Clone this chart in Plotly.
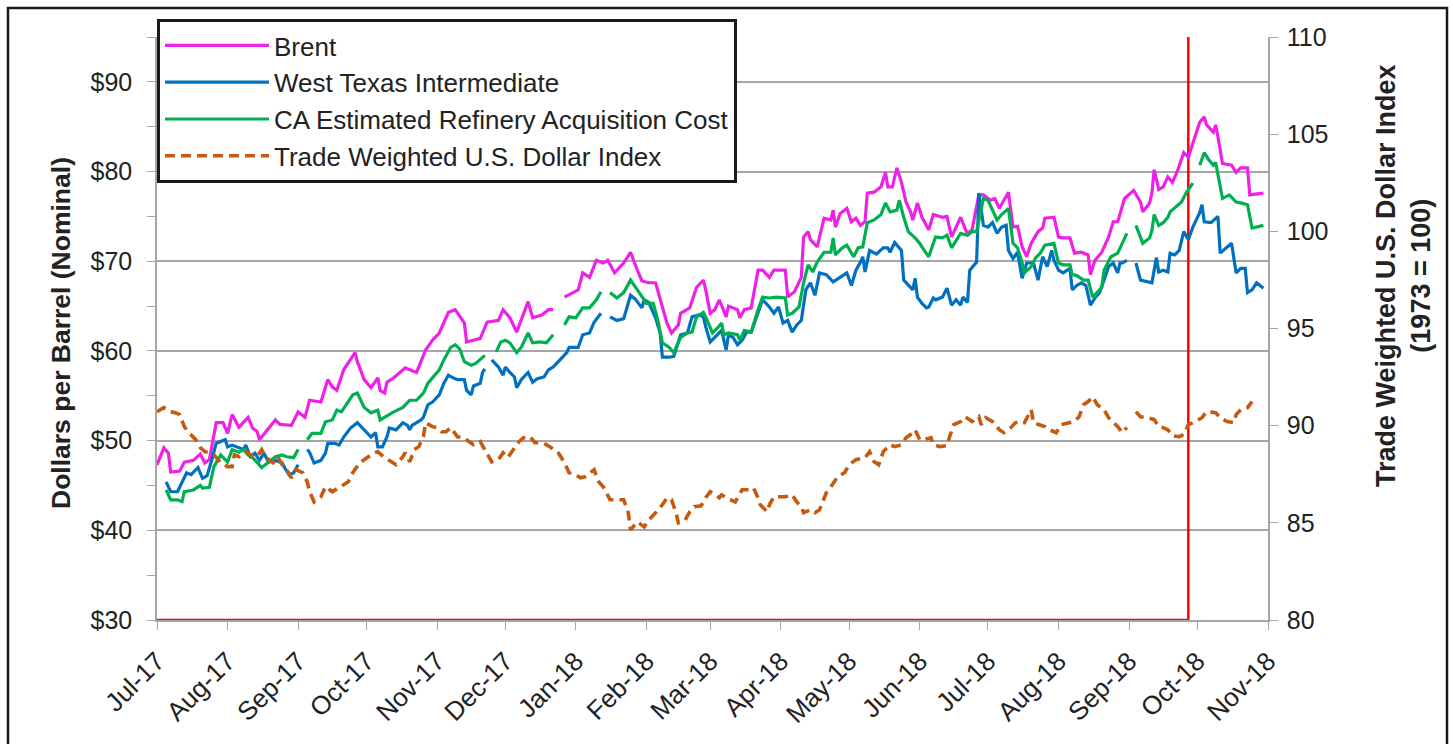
import plotly.graph_objects as go

# ---------------- data ----------------
brent = [
    ("2017-07-01", 47.3), ("2017-07-04", 49.2), ("2017-07-06", 48.6), ("2017-07-07", 46.5),
    ("2017-07-11", 46.6), ("2017-07-13", 47.6), ("2017-07-17", 47.8), ("2017-07-20", 48.5),
    ("2017-07-22", 47.5), ("2017-07-24", 47.9), ("2017-07-27", 52.0), ("2017-07-30", 52.0),
    ("2017-08-01", 50.8), ("2017-08-03", 52.9), ("2017-08-06", 51.5), ("2017-08-10", 52.6),
    ("2017-08-12", 51.4), ("2017-08-14", 51.0), ("2017-08-15", 50.1), ("2017-08-18", 51.0),
    ("2017-08-22", 52.3), ("2017-08-24", 51.8), ("2017-08-29", 51.7), ("2017-09-01", 53.2),
    ("2017-09-04", 52.6), ("2017-09-06", 54.5), ("2017-09-11", 54.3), ("2017-09-14", 56.8),
    ("2017-09-16", 56.0), ("2017-09-18", 55.6), ("2017-09-21", 57.9), ("2017-09-26", 59.8),
    ("2017-09-27", 58.8), ("2017-09-30", 56.8), ("2017-10-03", 55.9), ("2017-10-06", 57.0),
    ("2017-10-07", 55.6), ("2017-10-09", 55.3), ("2017-10-10", 56.5), ("2017-10-13", 57.0),
    ("2017-10-18", 58.1), ("2017-10-23", 57.6), ("2017-10-27", 60.1), ("2017-10-30", 61.2),
    ("2017-11-02", 62.0), ("2017-11-06", 64.3), ("2017-11-09", 64.6), ("2017-11-13", 63.1),
    ("2017-11-14", 61.0), ("2017-11-20", 61.4), ("2017-11-23", 63.2), ("2017-11-28", 63.4),
    ("2017-11-30", 64.6), ("2017-12-03", 63.7), ("2017-12-06", 62.1), ("2017-12-11", 65.5),
    ("2017-12-13", 63.7), ("2017-12-17", 64.0), ("2017-12-20", 64.6), ("2017-12-22", 64.6),
    ("2017-12-24", None),
    ("2017-12-27", 66.0), ("2018-01-02", 66.8), ("2018-01-04", 68.7), ("2018-01-07", 68.2),
    ("2018-01-10", 70.1), ("2018-01-13", 69.8), ("2018-01-15", 70.1), ("2018-01-18", 68.7),
    ("2018-01-22", 69.8), ("2018-01-25", 71.0), ("2018-01-28", 69.0), ("2018-01-30", 67.8),
    ("2018-02-02", 67.6), ("2018-02-05", 67.6), ("2018-02-08", 64.9), ("2018-02-10", 63.1),
    ("2018-02-12", 62.0), ("2018-02-15", 62.9), ("2018-02-16", 64.2), ("2018-02-20", 64.8),
    ("2018-02-23", 67.1), ("2018-02-26", 67.9), ("2018-02-27", 66.8), ("2018-03-01", 64.2),
    ("2018-03-03", 64.6), ("2018-03-05", 65.7), ("2018-03-08", 63.8), ("2018-03-09", 65.0),
    ("2018-03-13", 64.6), ("2018-03-14", 63.7), ("2018-03-16", 64.6), ("2018-03-19", 64.8),
    ("2018-03-22", 69.0), ("2018-03-24", 69.0), ("2018-03-27", 68.2), ("2018-03-29", 69.0),
    ("2018-04-03", 69.0), ("2018-04-04", 66.0), ("2018-04-07", 66.6), ("2018-04-10", 68.2),
    ("2018-04-11", 72.7), ("2018-04-13", 73.3), ("2018-04-14", 72.4), ("2018-04-17", 71.6),
    ("2018-04-20", 74.8), ("2018-04-23", 74.6), ("2018-04-24", 75.7), ("2018-04-25", 73.8),
    ("2018-04-27", 75.3), ("2018-04-30", 75.9), ("2018-05-02", 74.4), ("2018-05-04", 74.8),
    ("2018-05-06", 74.0), ("2018-05-08", 74.4), ("2018-05-09", 77.6), ("2018-05-12", 77.7),
    ("2018-05-15", 78.3), ("2018-05-16", 79.0), ("2018-05-17", 79.9), ("2018-05-18", 78.3),
    ("2018-05-20", 78.3), ("2018-05-22", 80.4), ("2018-05-24", 78.8), ("2018-05-26", 76.6),
    ("2018-05-28", 75.5), ("2018-05-29", 74.6), ("2018-05-31", 76.5), ("2018-06-02", 74.9),
    ("2018-06-05", 73.5), ("2018-06-07", 75.2), ("2018-06-11", 74.9), ("2018-06-13", 75.0),
    ("2018-06-15", 72.7), ("2018-06-17", 73.8), ("2018-06-19", 74.9), ("2018-06-21", 73.6),
    ("2018-06-22", 73.1), ("2018-06-24", 73.5), ("2018-06-27", 77.4), ("2018-06-29", 77.4),
    ("2018-07-02", 76.8), ("2018-07-04", 77.0), ("2018-07-06", 75.9), ("2018-07-08", 76.8),
    ("2018-07-10", 77.7), ("2018-07-12", 73.8), ("2018-07-14", 73.9), ("2018-07-16", 71.6),
    ("2018-07-18", 70.5), ("2018-07-20", 72.0), ("2018-07-23", 73.3), ("2018-07-25", 73.7),
    ("2018-07-26", 74.8), ("2018-07-30", 74.9), ("2018-08-01", 72.7), ("2018-08-03", 72.6),
    ("2018-08-06", 72.6), ("2018-08-08", 70.9), ("2018-08-11", 71.0), ("2018-08-14", 70.7),
    ("2018-08-15", 68.5), ("2018-08-17", 70.1), ("2018-08-20", 71.0), ("2018-08-23", 72.7),
    ("2018-08-25", 74.4), ("2018-08-27", 74.4), ("2018-08-29", 76.0), ("2018-08-30", 77.0),
    ("2018-09-03", 77.9), ("2018-09-06", 76.6), ("2018-09-07", 75.5), ("2018-09-10", 76.5),
    ("2018-09-11", 77.6), ("2018-09-12", 80.2), ("2018-09-14", 78.0), ("2018-09-16", 78.3),
    ("2018-09-18", 79.4), ("2018-09-20", 78.8), ("2018-09-22", 79.9), ("2018-09-25", 82.1),
    ("2018-09-27", 81.6), ("2018-09-29", 83.2), ("2018-10-02", 85.5), ("2018-10-04", 86.1),
    ("2018-10-05", 85.2), ("2018-10-08", 84.4), ("2018-10-09", 85.2), ("2018-10-10", 83.9),
    ("2018-10-12", 80.9), ("2018-10-16", 80.7), ("2018-10-18", 79.9), ("2018-10-20", 80.4),
    ("2018-10-23", 80.4), ("2018-10-24", 77.4), ("2018-10-27", 77.5), ("2018-10-30", 77.6),
]

wti = [
    ("2017-07-01", 46.0), ("2017-07-03", None),
    ("2017-07-05", 45.4), ("2017-07-07", 44.3), ("2017-07-10", 44.3), ("2017-07-14", 46.4),
    ("2017-07-16", 46.2), ("2017-07-19", 47.0), ("2017-07-21", 45.8), ("2017-07-23", 46.1),
    ("2017-07-25", 47.8), ("2017-07-27", 49.7), ("2017-07-31", 50.1), ("2017-08-01", 49.3),
    ("2017-08-03", 49.5), ("2017-08-05", 49.3), ("2017-08-08", 49.0), ("2017-08-09", 49.5),
    ("2017-08-11", 48.2), ("2017-08-13", 48.6), ("2017-08-15", 47.8), ("2017-08-17", 48.6),
    ("2017-08-19", 47.6), ("2017-08-22", 47.8), ("2017-08-25", 47.5), ("2017-08-26", 47.0),
    ("2017-08-28", 46.2), ("2017-08-30", 46.4), ("2017-09-01", 47.3), ("2017-09-03", None),
    ("2017-09-05", 49.0), ("2017-09-06", 48.7), ("2017-09-08", 47.5), ("2017-09-11", 47.8),
    ("2017-09-13", 48.6), ("2017-09-14", 49.7), ("2017-09-17", 49.7), ("2017-09-19", 49.5),
    ("2017-09-21", 50.4), ("2017-09-24", 51.4), ("2017-09-27", 52.0), ("2017-09-30", 51.2),
    ("2017-10-03", 50.4), ("2017-10-05", 50.9), ("2017-10-06", 49.3), ("2017-10-08", 49.3),
    ("2017-10-10", 50.4), ("2017-10-11", 51.4), ("2017-10-14", 51.2), ("2017-10-17", 52.0),
    ("2017-10-19", 51.7), ("2017-10-20", 51.2), ("2017-10-21", 51.7), ("2017-10-23", 52.0),
    ("2017-10-25", 52.3), ("2017-10-26", 52.6), ("2017-10-28", 54.0), ("2017-10-30", 54.3),
    ("2017-11-02", 55.1), ("2017-11-04", 56.4), ("2017-11-06", 57.3), ("2017-11-08", 57.0),
    ("2017-11-10", 56.8), ("2017-11-13", 56.8), ("2017-11-14", 55.6), ("2017-11-16", 55.1),
    ("2017-11-17", 56.1), ("2017-11-20", 56.4), ("2017-11-21", 57.6), ("2017-11-22", 58.0),
    ("2017-11-23", None),
    ("2017-11-25", 59.0), ("2017-11-28", 58.2), ("2017-11-30", 57.3), ("2017-12-01", 58.2),
    ("2017-12-03", 57.6), ("2017-12-05", 57.1), ("2017-12-06", 55.9), ("2017-12-08", 56.8),
    ("2017-12-11", 57.6), ("2017-12-13", 56.5), ("2017-12-15", 56.9), ("2017-12-18", 57.1),
    ("2017-12-20", 57.9), ("2017-12-22", 58.2), ("2017-12-25", 59.0), ("2017-12-28", 59.8),
    ("2017-12-29", 60.4), ("2018-01-02", 60.4), ("2018-01-04", 61.8), ("2018-01-07", 62.0),
    ("2018-01-09", 63.2), ("2018-01-12", 64.2), ("2018-01-14", None),
    ("2018-01-16", 63.8), ("2018-01-19", 63.4), ("2018-01-22", 63.6), ("2018-01-25", 66.2),
    ("2018-01-27", 65.8), ("2018-01-30", 64.8), ("2018-01-31", 65.7), ("2018-02-02", 65.4),
    ("2018-02-05", 63.7), ("2018-02-07", 62.0), ("2018-02-08", 59.3), ("2018-02-11", 59.3),
    ("2018-02-13", 59.4), ("2018-02-16", 61.8), ("2018-02-19", 62.0), ("2018-02-21", 63.8),
    ("2018-02-24", 64.0), ("2018-02-26", 63.8), ("2018-02-27", 62.7), ("2018-03-01", 61.0),
    ("2018-03-03", 61.5), ("2018-03-06", 62.3), ("2018-03-08", 60.1), ("2018-03-09", 61.8),
    ("2018-03-11", 61.5), ("2018-03-13", 60.7), ("2018-03-15", 61.2), ("2018-03-17", 62.1),
    ("2018-03-19", 62.1), ("2018-03-22", 64.2), ("2018-03-24", 65.7), ("2018-03-27", 64.9),
    ("2018-03-29", 64.2), ("2018-03-31", 64.9), ("2018-04-02", 63.1), ("2018-04-04", 63.4),
    ("2018-04-06", 62.1), ("2018-04-08", 62.9), ("2018-04-10", 63.4), ("2018-04-12", 66.8),
    ("2018-04-14", 67.6), ("2018-04-16", 66.2), ("2018-04-18", 68.7), ("2018-04-21", 68.5),
    ("2018-04-24", 67.7), ("2018-04-27", 68.2), ("2018-04-30", 68.7), ("2018-05-02", 67.3),
    ("2018-05-04", 69.0), ("2018-05-06", 69.9), ("2018-05-07", 70.5), ("2018-05-08", 68.8),
    ("2018-05-10", 71.2), ("2018-05-13", 70.8), ("2018-05-16", 71.5), ("2018-05-18", 71.5),
    ("2018-05-19", 71.0), ("2018-05-21", 72.1), ("2018-05-24", 71.2), ("2018-05-25", 67.9),
    ("2018-05-27", 67.3), ("2018-05-29", 66.8), ("2018-05-30", 68.1), ("2018-05-31", 66.0),
    ("2018-06-02", 65.3), ("2018-06-04", 64.8), ("2018-06-05", 64.9), ("2018-06-07", 65.9),
    ("2018-06-08", 65.7), ("2018-06-11", 66.0), ("2018-06-13", 67.0), ("2018-06-15", 65.1),
    ("2018-06-17", 65.7), ("2018-06-19", 65.1), ("2018-06-20", 66.0), ("2018-06-22", 65.4),
    ("2018-06-23", 69.0), ("2018-06-26", 69.9), ("2018-06-27", 77.6), ("2018-06-29", 74.0),
    ("2018-07-01", 73.8), ("2018-07-03", 74.3), ("2018-07-05", 73.1), ("2018-07-07", 73.8),
    ("2018-07-09", 74.0), ("2018-07-10", 71.2), ("2018-07-12", 70.3), ("2018-07-14", 71.0),
    ("2018-07-16", 68.1), ("2018-07-18", 69.8), ("2018-07-21", 69.8), ("2018-07-23", 67.9),
    ("2018-07-25", 70.5), ("2018-07-27", 69.4), ("2018-07-29", 71.2), ("2018-07-30", 70.1),
    ("2018-08-01", 69.0), ("2018-08-03", 68.7), ("2018-08-06", 69.2), ("2018-08-07", 66.8),
    ("2018-08-09", 67.3), ("2018-08-11", 67.6), ("2018-08-13", 67.3), ("2018-08-15", 65.1),
    ("2018-08-17", 65.9), ("2018-08-19", 66.5), ("2018-08-21", 67.9), ("2018-08-23", 69.4),
    ("2018-08-25", 69.8), ("2018-08-27", 68.7), ("2018-08-28", 69.8), ("2018-08-29", 69.8),
    ("2018-08-31", 70.1), ("2018-09-03", None),
    ("2018-09-04", 69.8), ("2018-09-06", 67.9), ("2018-09-11", 67.6), ("2018-09-13", 70.4),
    ("2018-09-14", 68.8), ("2018-09-16", 69.0), ("2018-09-18", 68.8), ("2018-09-19", 70.9),
    ("2018-09-21", 70.7), ("2018-09-23", 71.2), ("2018-09-25", 73.3), ("2018-09-27", 72.4),
    ("2018-09-29", 73.8), ("2018-10-02", 75.4), ("2018-10-03", 76.3), ("2018-10-04", 74.4),
    ("2018-10-07", 74.3), ("2018-10-10", 75.0), ("2018-10-11", 70.9), ("2018-10-14", 71.6),
    ("2018-10-16", 72.0), ("2018-10-18", 68.7), ("2018-10-20", 69.2), ("2018-10-22", 69.2),
    ("2018-10-23", 66.5), ("2018-10-25", 66.8), ("2018-10-27", 67.6), ("2018-10-30", 67.0),
]

ca_rac = [
    ("2017-07-01", 44.3), ("2017-07-03", None),
    ("2017-07-05", 44.5), ("2017-07-07", 43.4), ("2017-07-10", 43.4), ("2017-07-12", 43.2),
    ("2017-07-13", 44.3), ("2017-07-17", 44.5), ("2017-07-20", 45.0), ("2017-07-21", 44.7),
    ("2017-07-24", 44.8), ("2017-07-26", 47.1), ("2017-07-29", 48.4), ("2017-08-01", 47.6),
    ("2017-08-03", 49.0), ("2017-08-06", 48.7), ("2017-08-08", 49.0), ("2017-08-10", 48.4),
    ("2017-08-12", 48.1), ("2017-08-14", 47.6), ("2017-08-16", 47.0), ("2017-08-19", 47.6),
    ("2017-08-22", 48.2), ("2017-08-25", 48.4), ("2017-08-27", 48.2), ("2017-08-30", 48.1),
    ("2017-09-01", 49.0), ("2017-09-03", None),
    ("2017-09-05", 50.1), ("2017-09-07", 50.8), ("2017-09-11", 50.8), ("2017-09-13", 52.1),
    ("2017-09-16", 52.3), ("2017-09-18", 53.4), ("2017-09-20", 53.2), ("2017-09-23", 54.3),
    ("2017-09-25", 55.1), ("2017-09-27", 55.3), ("2017-09-30", 53.7), ("2017-10-03", 53.1),
    ("2017-10-06", 53.4), ("2017-10-07", 52.3), ("2017-10-10", 52.8), ("2017-10-13", 53.2),
    ("2017-10-17", 53.7), ("2017-10-20", 54.5), ("2017-10-23", 54.5), ("2017-10-26", 55.3),
    ("2017-10-28", 56.4), ("2017-10-30", 57.0), ("2017-11-02", 57.9), ("2017-11-04", 59.0),
    ("2017-11-07", 60.4), ("2017-11-09", 60.7), ("2017-11-11", 60.2), ("2017-11-13", 58.8),
    ("2017-11-16", 58.4), ("2017-11-18", 58.6), ("2017-11-20", 59.0), ("2017-11-22", 59.5),
    ("2017-11-24", None),
    ("2017-11-27", 59.9), ("2017-11-29", 61.0), ("2017-12-01", 61.2), ("2017-12-03", 60.9),
    ("2017-12-06", 59.8), ("2017-12-08", 60.4), ("2017-12-11", 62.0), ("2017-12-13", 60.9),
    ("2017-12-16", 61.0), ("2017-12-19", 60.9), ("2017-12-20", 61.2), ("2017-12-22", 61.8),
    ("2017-12-24", None),
    ("2017-12-27", 62.9), ("2017-12-29", 63.8), ("2018-01-01", 63.7), ("2018-01-04", 64.8),
    ("2018-01-07", 64.8), ("2018-01-10", 65.7), ("2018-01-12", 66.6), ("2018-01-14", None),
    ("2018-01-16", 66.5), ("2018-01-19", 65.9), ("2018-01-22", 66.5), ("2018-01-25", 67.9),
    ("2018-01-28", 66.8), ("2018-01-30", 66.0), ("2018-02-01", 65.3), ("2018-02-04", 65.3),
    ("2018-02-06", 63.4), ("2018-02-08", 60.9), ("2018-02-11", 60.4), ("2018-02-13", 59.8),
    ("2018-02-16", 61.5), ("2018-02-19", 62.0), ("2018-02-21", 62.1), ("2018-02-23", 63.8),
    ("2018-02-26", 64.3), ("2018-02-27", 63.8), ("2018-03-02", 62.0), ("2018-03-04", 62.5),
    ("2018-03-06", 63.1), ("2018-03-07", 61.8), ("2018-03-09", 62.0), ("2018-03-13", 61.8),
    ("2018-03-14", 61.2), ("2018-03-16", 62.3), ("2018-03-19", 62.1), ("2018-03-22", 64.6),
    ("2018-03-24", 66.0), ("2018-03-27", 65.9), ("2018-03-30", 66.0), ("2018-04-03", 65.9),
    ("2018-04-04", 64.0), ("2018-04-06", 64.2), ("2018-04-09", 64.9), ("2018-04-11", 67.6),
    ("2018-04-13", 69.6), ("2018-04-15", 68.8), ("2018-04-17", 69.9), ("2018-04-20", 71.0),
    ("2018-04-23", 71.0), ("2018-04-24", 72.6), ("2018-04-25", 70.7), ("2018-04-28", 71.5),
    ("2018-04-30", 71.8), ("2018-05-03", 70.5), ("2018-05-05", 71.5), ("2018-05-07", 71.6),
    ("2018-05-09", 74.3), ("2018-05-12", 74.6), ("2018-05-15", 75.2), ("2018-05-17", 76.5),
    ("2018-05-19", 75.5), ("2018-05-22", 75.7), ("2018-05-23", 76.8), ("2018-05-25", 74.9),
    ("2018-05-27", 73.3), ("2018-05-30", 72.6), ("2018-06-01", 72.0), ("2018-06-03", 71.2),
    ("2018-06-05", 70.5), ("2018-06-07", 72.0), ("2018-06-08", 72.7), ("2018-06-11", 72.6),
    ("2018-06-13", 72.9), ("2018-06-15", 71.5), ("2018-06-18", 72.7), ("2018-06-19", 73.1),
    ("2018-06-22", 72.9), ("2018-06-24", 73.3), ("2018-06-26", 73.3), ("2018-06-29", 77.0),
    ("2018-07-01", 76.8), ("2018-07-03", 75.7), ("2018-07-05", 74.6), ("2018-07-07", 75.2),
    ("2018-07-10", 75.9), ("2018-07-12", 72.0), ("2018-07-14", 71.5), ("2018-07-16", 69.8),
    ("2018-07-17", 68.7), ("2018-07-20", 69.4), ("2018-07-22", 70.4), ("2018-07-24", 70.9),
    ("2018-07-26", 71.8), ("2018-07-30", 72.0), ("2018-08-01", 69.8), ("2018-08-03", 69.6),
    ("2018-08-06", 69.6), ("2018-08-07", 68.5), ("2018-08-09", 68.4), ("2018-08-12", 67.9),
    ("2018-08-14", 67.9), ("2018-08-16", 66.0), ("2018-08-18", 66.6), ("2018-08-20", 67.1),
    ("2018-08-21", 69.0), ("2018-08-24", 70.5), ("2018-08-27", 70.9), ("2018-08-29", 72.0),
    ("2018-08-31", 73.1), ("2018-09-03", None),
    ("2018-09-04", 74.0), ("2018-09-05", 73.3), ("2018-09-07", 72.0), ("2018-09-10", 72.6),
    ("2018-09-11", 73.4), ("2018-09-12", 75.2), ("2018-09-14", 74.0), ("2018-09-16", 74.3),
    ("2018-09-18", 74.9), ("2018-09-19", 75.5), ("2018-09-21", 75.9), ("2018-09-24", 76.6),
    ("2018-09-26", 77.6), ("2018-09-29", 78.7), ("2018-10-01", None),
    ("2018-10-02", 80.7), ("2018-10-04", 82.1), ("2018-10-06", 81.3), ("2018-10-08", 80.7),
    ("2018-10-09", 81.0), ("2018-10-12", 77.0), ("2018-10-15", 77.4), ("2018-10-18", 76.6),
    ("2018-10-20", 76.5), ("2018-10-23", 76.3), ("2018-10-25", 73.7), ("2018-10-30", 74.0),
]

dollar_index = [
    ("2017-07-01", 90.72), ("2017-07-04", 90.93), ("2017-07-07", 90.72), ("2017-07-09", 90.67),
    ("2017-07-11", 90.57), ("2017-07-13", 89.95), ("2017-07-15", 89.64), ("2017-07-18", 89.28),
    ("2017-07-20", 88.87), ("2017-07-22", 88.66), ("2017-07-24", 88.61), ("2017-07-26", 88.50),
    ("2017-07-29", 88.09), ("2017-08-01", 87.89), ("2017-08-03", 87.89), ("2017-08-04", 88.50),
    ("2017-08-06", 88.40), ("2017-08-09", 88.66), ("2017-08-11", 88.50), ("2017-08-14", 88.40),
    ("2017-08-16", 88.76), ("2017-08-18", 88.35), ("2017-08-21", 88.09), ("2017-08-23", 88.40),
    ("2017-08-25", 87.99), ("2017-08-27", 87.73), ("2017-08-29", 87.32), ("2017-08-31", 87.73),
    ("2017-09-03", 87.58), ("2017-09-05", 87.11), ("2017-09-06", 86.60), ("2017-09-08", 86.08),
    ("2017-09-11", 86.34), ("2017-09-13", 86.86), ("2017-09-16", 86.60), ("2017-09-19", 86.80),
    ("2017-09-21", 86.96), ("2017-09-23", 87.11), ("2017-09-25", 87.58), ("2017-09-28", 88.09),
    ("2017-09-30", 88.25), ("2017-10-03", 88.50), ("2017-10-06", 88.66), ("2017-10-09", 88.35),
    ("2017-10-12", 88.14), ("2017-10-14", 87.99), ("2017-10-17", 88.40), ("2017-10-18", 88.61),
    ("2017-10-20", 88.14), ("2017-10-22", 88.76), ("2017-10-24", 88.92), ("2017-10-26", 89.43),
    ("2017-10-27", 90.15), ("2017-10-30", 89.95), ("2017-11-01", 89.90), ("2017-11-03", 89.69),
    ("2017-11-05", 89.69), ("2017-11-07", 89.90), ("2017-11-10", 89.43), ("2017-11-13", 89.38),
    ("2017-11-15", 89.18), ("2017-11-17", 89.02), ("2017-11-20", 89.18), ("2017-11-22", 88.76),
    ("2017-11-25", 88.14), ("2017-11-28", 88.25), ("2017-11-30", 88.61), ("2017-12-02", 88.35),
    ("2017-12-05", 88.87), ("2017-12-07", 89.18), ("2017-12-09", 89.38), ("2017-12-12", 89.43),
    ("2017-12-14", 89.12), ("2017-12-17", 89.12), ("2017-12-19", 89.02), ("2017-12-21", 88.87),
    ("2017-12-24", 88.66), ("2017-12-27", 88.09), ("2017-12-29", 87.58), ("2018-01-01", 87.47),
    ("2018-01-03", 87.32), ("2018-01-05", 87.37), ("2018-01-09", 87.73), ("2018-01-11", 87.11),
    ("2018-01-13", 86.86), ("2018-01-16", 86.19), ("2018-01-19", 86.19), ("2018-01-22", 86.19),
    ("2018-01-24", 85.52), ("2018-01-25", 84.64), ("2018-01-28", 85.05), ("2018-01-31", 84.79),
    ("2018-02-02", 85.15), ("2018-02-03", 85.26), ("2018-02-05", 85.52), ("2018-02-08", 85.93),
    ("2018-02-10", 86.29), ("2018-02-12", 86.19), ("2018-02-14", 85.52), ("2018-02-15", 85.00),
    ("2018-02-18", 85.15), ("2018-02-20", 85.57), ("2018-02-22", 85.83), ("2018-02-25", 85.88),
    ("2018-02-27", 86.29), ("2018-03-01", 86.60), ("2018-03-05", 86.29), ("2018-03-06", 86.44),
    ("2018-03-08", 86.29), ("2018-03-12", 86.08), ("2018-03-13", 86.29), ("2018-03-15", 86.70),
    ("2018-03-18", 86.70), ("2018-03-20", 86.80), ("2018-03-22", 86.29), ("2018-03-23", 85.93),
    ("2018-03-26", 85.57), ("2018-03-27", 85.93), ("2018-03-29", 86.34), ("2018-04-03", 86.34),
    ("2018-04-06", 86.44), ("2018-04-08", 86.08), ("2018-04-10", 85.83), ("2018-04-11", 85.52),
    ("2018-04-14", 85.67), ("2018-04-16", 85.52), ("2018-04-18", 85.67), ("2018-04-20", 86.19),
    ("2018-04-21", 86.55), ("2018-04-23", 86.86), ("2018-04-26", 87.37), ("2018-04-29", 87.58),
    ("2018-05-01", 87.99), ("2018-05-04", 88.25), ("2018-05-08", 88.35), ("2018-05-10", 88.66),
    ("2018-05-12", 88.14), ("2018-05-14", 87.99), ("2018-05-16", 88.66), ("2018-05-19", 89.02),
    ("2018-05-21", 88.92), ("2018-05-24", 89.02), ("2018-05-26", 89.38), ("2018-05-28", 89.54),
    ("2018-05-30", 89.79), ("2018-06-01", 89.28), ("2018-06-03", 89.28), ("2018-06-06", 89.38),
    ("2018-06-07", 89.02), ("2018-06-10", 88.92), ("2018-06-13", 88.97), ("2018-06-14", 89.38),
    ("2018-06-16", 90.05), ("2018-06-19", 90.21), ("2018-06-21", 90.46), ("2018-06-24", 90.21),
    ("2018-06-27", 90.46), ("2018-06-28", 90.05), ("2018-06-30", 90.41), ("2018-07-03", 90.21),
    ("2018-07-06", 89.79), ("2018-07-08", 89.64), ("2018-07-11", 89.90), ("2018-07-13", 90.15),
    ("2018-07-15", 90.21), ("2018-07-17", 90.15), ("2018-07-20", 90.82), ("2018-07-21", 90.15),
    ("2018-07-24", 90.05), ("2018-07-26", 89.95), ("2018-07-28", 89.79), ("2018-07-31", 89.64),
    ("2018-08-02", 90.05), ("2018-08-05", 90.15), ("2018-08-08", 90.21), ("2018-08-10", 90.46),
    ("2018-08-12", 91.08), ("2018-08-14", 91.24), ("2018-08-16", 91.49), ("2018-08-18", 91.08),
    ("2018-08-21", 90.82), ("2018-08-23", 90.41), ("2018-08-25", 90.21), ("2018-08-27", 89.95),
    ("2018-08-29", 89.64), ("2018-08-31", 89.90), ("2018-09-03", None),
    ("2018-09-04", 90.72), ("2018-09-06", 90.46), ("2018-09-09", 90.41), ("2018-09-12", 90.31),
    ("2018-09-14", 89.95), ("2018-09-16", 89.90), ("2018-09-18", 89.79), ("2018-09-20", 89.48),
    ("2018-09-23", 89.43), ("2018-09-25", 89.54), ("2018-09-27", 90.05), ("2018-09-29", 90.15),
    ("2018-10-03", 90.41), ("2018-10-05", 90.72), ("2018-10-09", 90.67), ("2018-10-11", 90.41),
    ("2018-10-14", 90.21), ("2018-10-17", 90.15), ("2018-10-18", 90.57), ("2018-10-20", 90.82),
    ("2018-10-23", 90.93), ("2018-10-25", 91.24),
]

marker_date = "2018-09-27"          # red reference line
x_start, x_end = "2017-07-01", "2018-11-01"
price_range = [30, 95]
index_range = [80, 110]
price_ticks = [30, 40, 50, 60, 70, 80, 90]
index_ticks = [80, 85, 90, 95, 100, 105, 110]

series_names = [
    "Brent",
    "West Texas Intermediate",
    "CA Estimated Refinery Acquisition Cost",
    "Trade Weighted U.S. Dollar Index",
]

# ---------------- figure ----------------
FONT = "Liberation Sans, Arial, sans-serif"
TXT = "#222222"
GRID = "#A6A6A6"


def split(pairs):
    return [p[0] for p in pairs], [p[1] for p in pairs]


fig = go.Figure()

# red reference line (under everything)
fig.add_trace(go.Scatter(
    x=[x_start, marker_date, marker_date],
    y=[price_range[0], price_range[0], price_range[1]],
    mode="lines", line=dict(color="#FF0000", width=2.5),
    showlegend=False, hoverinfo="skip", cliponaxis=False,
))

for pairs, name, color in [
    (brent, series_names[0], "#EE22E6"),
    (wti, series_names[1], "#0070C0"),
    (ca_rac, series_names[2], "#00B050"),
]:
    xs, ys = split(pairs)
    fig.add_trace(go.Scatter(x=xs, y=ys, name=name, mode="lines",
                             line=dict(color=color, width=3.2), connectgaps=False))

xs, ys = split(dollar_index)
fig.add_trace(go.Scatter(x=xs, y=ys, name=series_names[3], mode="lines", yaxis="y2",
                         line=dict(color="#C55A11", width=3.6, dash="10px,6px"),
                         connectgaps=False))

W, H = 1453, 744
L, R, T, B = 157, 185, 37, 124
pw, ph = W - L - R, H - T - B


def px_x(px):
    return (px - L) / pw


def px_y(py):
    return (H - B - py) / ph


fig.update_layout(
    width=W, height=H,
    margin=dict(l=L, r=R, t=T, b=B, autoexpand=False),
    paper_bgcolor="white", plot_bgcolor="white",
    font=dict(family=FONT, size=24, color=TXT),
    showlegend=True,
    legend=dict(
        x=0, y=px_y(19), xanchor="left", yanchor="top",
        bgcolor="white", bordercolor="#1a1a1a", borderwidth=3,
        font=dict(family=FONT, size=26, color=TXT),
        itemwidth=104, tracegroupgap=0,
    ),
    xaxis=dict(
        type="date", range=[x_start, x_end],
        tick0=x_start, dtick="M1", tickformat="%b-%y", tickangle=-45,
        ticks="outside", ticklen=8, tickcolor=GRID, tickwidth=1.2,
        ticklabelstandoff=6,
        showline=True, linecolor=GRID, linewidth=1.5,
        showgrid=False, zeroline=False,
        tickfont=dict(family=FONT, size=26, color=TXT),
    ),
    yaxis=dict(
        range=price_range, tickvals=price_ticks,
        ticktext=["$" + str(v) for v in price_ticks],
        ticks="outside", ticklen=8, tickcolor=GRID, tickwidth=1.2,
        ticklabelstandoff=10,
        minor=dict(dtick=5, tick0=30, ticks="outside", ticklen=8, tickcolor=GRID, tickwidth=1.2),
        showline=True, linecolor=GRID, linewidth=1.5,
        showgrid=True, gridcolor=GRID, gridwidth=1.5, zeroline=False,
        tickfont=dict(family=FONT, size=25, color=TXT),
    ),
    yaxis2=dict(
        range=index_range, tickvals=index_ticks,
        overlaying="y", side="right",
        ticks="outside", ticklen=8, tickcolor=GRID, tickwidth=1.2,
        ticklabelstandoff=4,
        showline=True, linecolor=GRID, linewidth=1.5,
        showgrid=False, zeroline=False,
        tickfont=dict(family=FONT, size=25, color=TXT),
    ),
    annotations=[
        dict(text="<b>Dollars per Barrel (Nominal)</b>", xref="paper", yref="paper",
             x=px_x(61), y=px_y(333), textangle=-90, showarrow=False,
             font=dict(family=FONT, size=26.5, color=TXT), xanchor="center", yanchor="middle"),
        dict(text="<b>Trade Weighted U.S. Dollar Index<br>(1973 = 100)</b>", xref="paper", yref="paper",
             x=px_x(1403), y=px_y(276), textangle=-90, showarrow=False,
             font=dict(family=FONT, size=27, color=TXT), xanchor="center", yanchor="middle"),
    ],
    shapes=[
        dict(type="rect", xref="paper", yref="paper",
             x0=px_x(8), x1=px_x(1447), y0=px_y(770), y1=px_y(8),
             line=dict(color="#1a1a1a", width=2.5), fillcolor="rgba(0,0,0,0)", layer="above"),
    ],
)

fig.write_html("out.html", config={"displayModeBar": False},
               post_script="document.body.style.margin='0';")
